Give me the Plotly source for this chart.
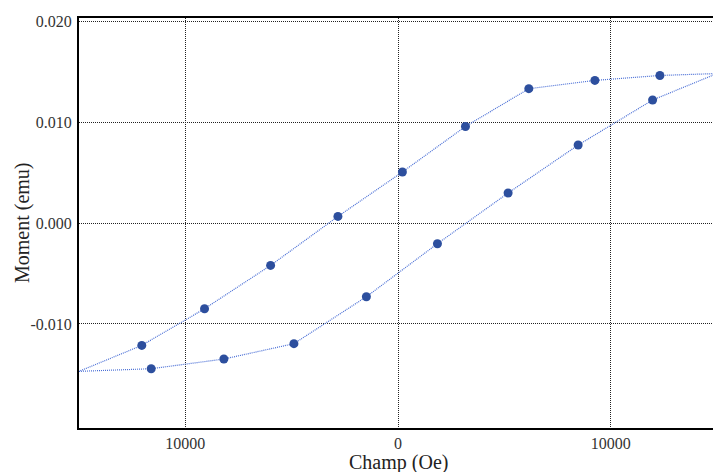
import plotly.graph_objects as go

# Hysteresis loop data: field (Oe) and moment (emu)
ascending_field = [-11605, -8188, -4894, -1487, 1854, 5177, 8471, 11972]
ascending_moment = [-0.01443, -0.01347, -0.01195, -0.0073, -0.00205, 0.00297, 0.00772, 0.01218]
descending_field = [12316, 9257, 6151, 3172, 207, -2824, -5991, -9097, -12047]
descending_moment = [0.01461, 0.01412, 0.01330, 0.00956, 0.00505, 0.00065, -0.0042, -0.00849, -0.01212]
# loop end points (no markers)
end_low = (-15000, -0.01469)
end_high = (15000, 0.01480)

x_tick_vals = [-10000, 0, 10000]
x_tick_text = ["10000", "0", "10000"]
y_tick_vals = [-0.01, 0.0, 0.01, 0.02]
y_tick_text = ["-0.010", "0.000", "0.010", "0.020"]

loop_x = [end_low[0]] + ascending_field + [end_high[0]] + descending_field + [end_low[0]]
loop_y = [end_low[1]] + ascending_moment + [end_high[1]] + descending_moment + [end_low[1]]

fig = go.Figure()
fig.add_trace(go.Scatter(
    x=loop_x, y=loop_y, mode="lines",
    line=dict(color="#4a6fd6", width=1.2, dash="1px,1px"),
    hoverinfo="skip", showlegend=False,
))
fig.add_trace(go.Scatter(
    x=ascending_field + descending_field,
    y=ascending_moment + descending_moment,
    mode="markers",
    marker=dict(color="#2d4f9e", size=9, line=dict(width=0)),
    showlegend=False,
))

font_family = "Liberation Serif"
fig.update_layout(
    width=718, height=472,
    margin=dict(l=79, r=1, t=18, b=44, autoexpand=False),
    paper_bgcolor="white", plot_bgcolor="white",
    font=dict(family=font_family, color="#222"),
    xaxis=dict(
        range=[-15000, 15000], automargin=False,
        tickvals=x_tick_vals, ticktext=x_tick_text,
        showgrid=True, gridcolor="#222", griddash="1px,1px", gridwidth=1,
        zeroline=False,
        showline=True, linecolor="black", linewidth=2, mirror=True,
        ticks="", ticklabelstandoff=0, tickfont=dict(size=16, color="#333"),
    ),
    yaxis=dict(
        range=[-0.0203, 0.0203], automargin=False,
        tickvals=y_tick_vals, ticktext=y_tick_text,
        showgrid=True, gridcolor="#222", griddash="1px,1px", gridwidth=1,
        zeroline=False,
        showline=True, linecolor="black", linewidth=2, mirror=True,
        ticks="", ticklabelstandoff=2, tickfont=dict(size=16, color="#333"),
    ),
    annotations=[
        dict(text="Champ (Oe)", xref="paper", yref="paper", x=0.5, y=0,
             yshift=-34, xanchor="center", yanchor="middle",
             showarrow=False, font=dict(size=20, color="#222")),
        dict(text="Moment (emu)", xref="paper", yref="paper", x=0, y=0.5,
             xshift=-57, xanchor="center", yanchor="middle", textangle=-90,
             showarrow=False, font=dict(size=20, color="#222")),
    ],
)

fig.write_html(
    "out.html",
    config={"displayModeBar": False},
    post_script="document.body.style.margin='0';document.body.style.overflow='hidden';",
)
